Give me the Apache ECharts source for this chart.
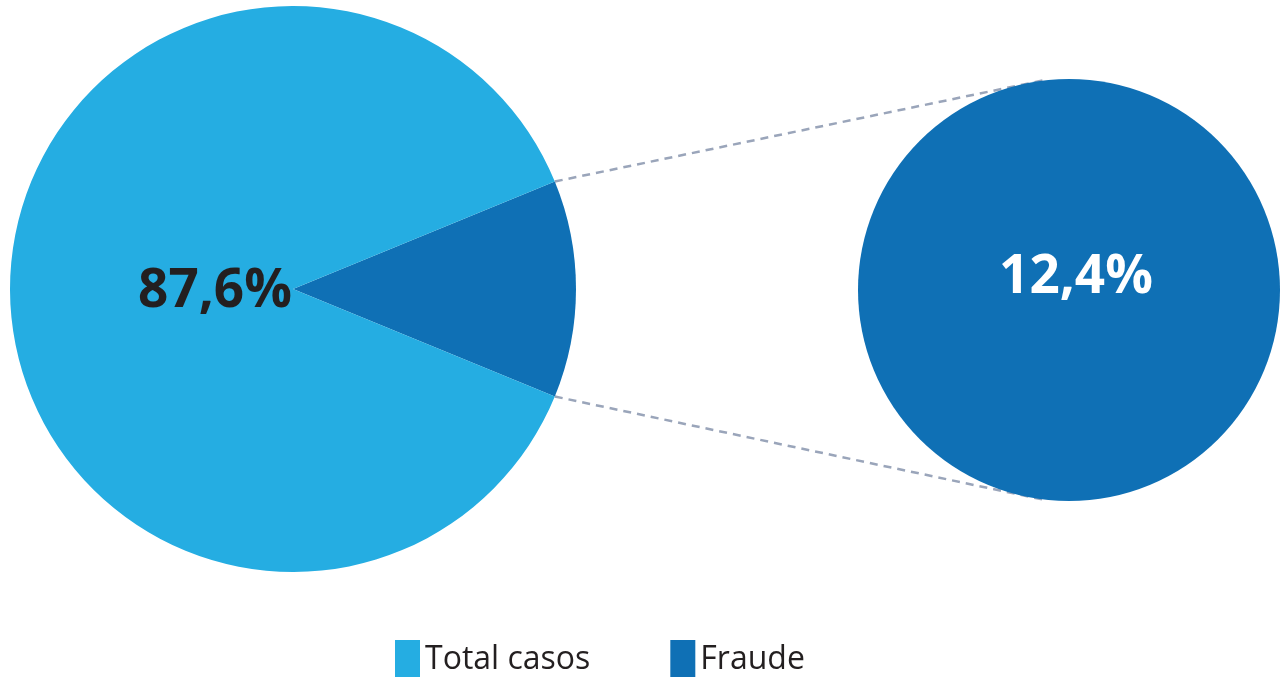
<!DOCTYPE html>
<html>
<head>
<meta charset="utf-8">
<script src="https://cdn.jsdelivr.net/npm/echarts@6/dist/echarts.min.js"></script>
<style>
html,body{margin:0;padding:0;background:#fff;}
#c{width:1282px;height:677px;}
</style>
</head>
<body>
<div id="c"></div>
<script>
const categories = ['Fraude', 'Total casos'];
const values = [12.4, 87.6];
const labels = ['12,4%', '87,6%'];
const colors = ['#0F70B5', '#25ADE2'];

const chart = echarts.init(document.getElementById('c'), null, {renderer: 'canvas'});

const leftCenter = [293, 289], leftR = 283;
const rightCenter = [1069, 290], rightR = 211;
const share = values[0] / (values[0] + values[1]);
const half = share * 180;
const rad = half * Math.PI / 180;
const p1 = [leftCenter[0] + leftR * Math.cos(rad), leftCenter[1] - leftR * Math.sin(rad)];
const p2 = [leftCenter[0] + leftR * Math.cos(rad), leftCenter[1] + leftR * Math.sin(rad)];
const q1 = [rightCenter[0] - 24, rightCenter[1] - rightR + 1];
const q2 = [rightCenter[0] - 24, rightCenter[1] + rightR - 1];

const font = '"Open Sans", "Noto Sans", sans-serif';

chart.setOption({
  animation: false,
  legend: {
    data: ['Total casos', 'Fraude'],
    left: 395, top: 640, padding: 0,
    itemWidth: 25, itemHeight: 40, itemGap: 80,
    icon: 'rect',
    selectedMode: false,
    textStyle: {fontSize: 32, color: '#231F20', fontFamily: font}
  },
  graphic: [
    {type: 'line', z: -1, shape: {x1: p1[0], y1: p1[1], x2: q1[0], y2: q1[1]},
     style: {stroke: '#9AA5BA', lineWidth: 2.5, lineDash: [8, 6]}},
    {type: 'line', z: -1, shape: {x1: p2[0], y1: p2[1], x2: q2[0], y2: q2[1]},
     style: {stroke: '#9AA5BA', lineWidth: 2.5, lineDash: [8, 6]}}
  ],
  series: [
    {
      type: 'pie', silent: true,
      center: leftCenter, radius: leftR,
      startAngle: half, clockwise: true,
      emphasis: {disabled: true},
      labelLine: {show: false},
      data: categories.map((c, i) => ({
        name: c, value: values[i],
        itemStyle: {color: colors[i]},
        label: i === 1 ? {
          show: true, position: 'center', formatter: labels[i],
          offset: [-78, 3],
          fontSize: 53, fontWeight: 'bold', color: '#231F20', fontFamily: font
        } : {show: false}
      }))
    },
    {
      type: 'pie', silent: true,
      center: rightCenter, radius: rightR,
      emphasis: {disabled: true},
      labelLine: {show: false},
      data: [{
        name: categories[0], value: values[0],
        itemStyle: {color: colors[0]},
        label: {
          show: true, position: 'center', formatter: labels[0],
          offset: [7, -12],
          fontSize: 53, fontWeight: 'bold', color: '#FFFFFF', fontFamily: font
        }
      }]
    }
  ]
});
</script>
</body>
</html>
